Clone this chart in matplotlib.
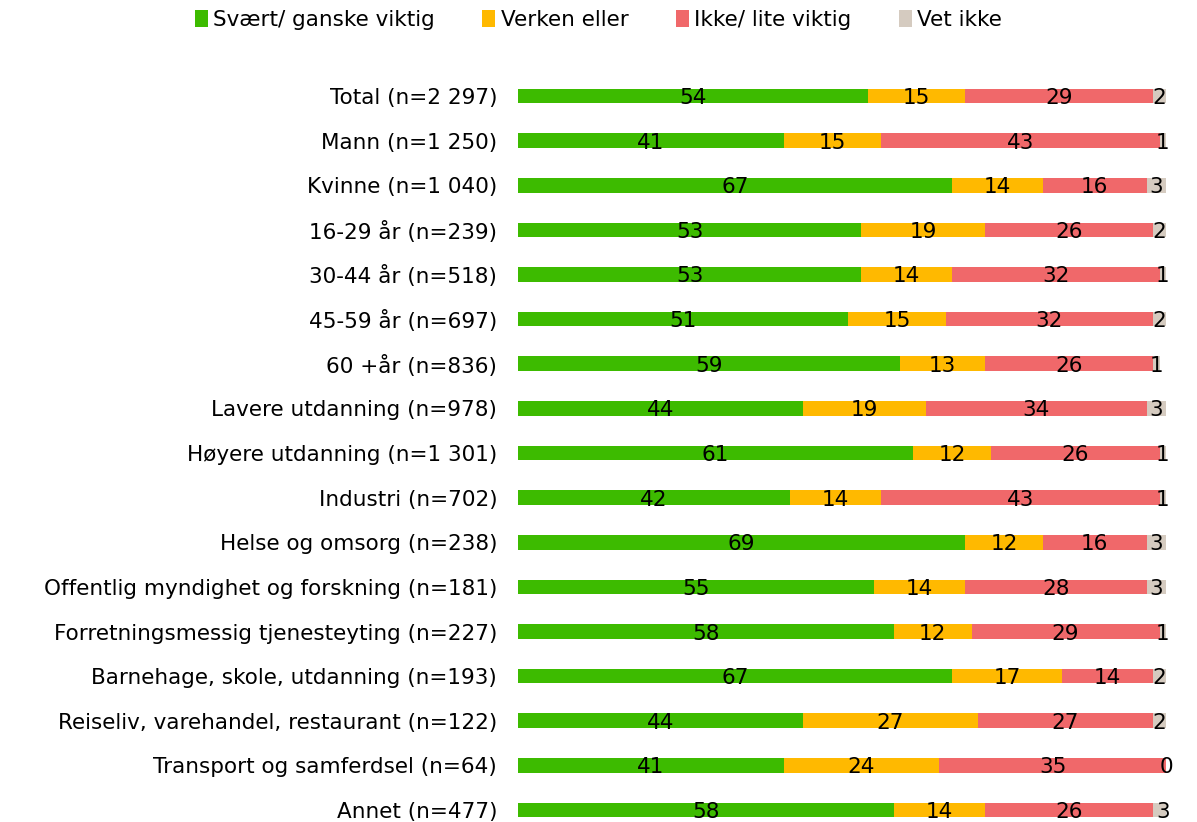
import matplotlib.pyplot as plt

categories = [
    "Total (n=2 297)", "Mann (n=1 250)", "Kvinne (n=1 040)", "16-29 år (n=239)",
    "30-44 år (n=518)", "45-59 år (n=697)", "60 +år (n=836)",
    "Lavere utdanning (n=978)", "Høyere utdanning (n=1 301)", "Industri (n=702)",
    "Helse og omsorg (n=238)", "Offentlig myndighet og forskning (n=181)",
    "Forretningsmessig tjenesteyting (n=227)", "Barnehage, skole, utdanning (n=193)",
    "Reiseliv, varehandel, restaurant (n=122)", "Transport og samferdsel (n=64)",
    "Annet (n=477)",
]
viktig = [54, 41, 67, 53, 53, 51, 59, 44, 61, 42, 69, 55, 58, 67, 44, 41, 58]
verken = [15, 15, 14, 19, 14, 15, 13, 19, 12, 14, 12, 14, 12, 17, 27, 24, 14]
ikke = [29, 43, 16, 26, 32, 32, 26, 34, 26, 43, 16, 28, 29, 14, 27, 35, 26]
vet_ikke = [2, 1, 3, 2, 1, 2, 1, 3, 1, 1, 3, 3, 1, 2, 2, 0, 3]

series = [
    ("Svært/ ganske viktig", viktig, "#3dbb00"),
    ("Verken eller", verken, "#ffb900"),
    ("Ikke/ lite viktig", ikke, "#f0686a"),
    ("Vet ikke", vet_ikke, "#d5cbc0"),
]

fs = 15.5
fig = plt.figure(figsize=(11.97, 8.22), dpi=100)
ax = fig.add_axes([518 / 1197, 0, 648 / 1197, 1])

ypos = list(range(len(categories)))
left = [0] * len(categories)
for name, vals, color in series:
    ax.barh(ypos, vals, left=left, height=0.33, color=color, label=name)
    for y, l, v in zip(ypos, left, vals):
        ax.text(l + v / 2, y, str(v), ha="center", va="center_baseline",
                fontsize=fs, color="black")
    left = [a + b for a, b in zip(left, vals)]

ax.set_xlim(0, 100)
ax.set_ylim(16 + 12 / 44.625, -96 / 44.625)
ax.set_yticks(ypos)
ax.set_yticklabels(categories, fontsize=fs)
ax.tick_params(axis="y", length=0, pad=15)
ax.set_xticks([])
for s in ax.spines.values():
    s.set_visible(False)

fig.legend(loc="upper center", bbox_to_anchor=(0.5, 1.012), ncol=4, frameon=False,
           fontsize=fs, handlelength=0.6, handleheight=0.9, handletextpad=0.25,
           columnspacing=2.2)

fig.savefig("out.png", dpi=100)
